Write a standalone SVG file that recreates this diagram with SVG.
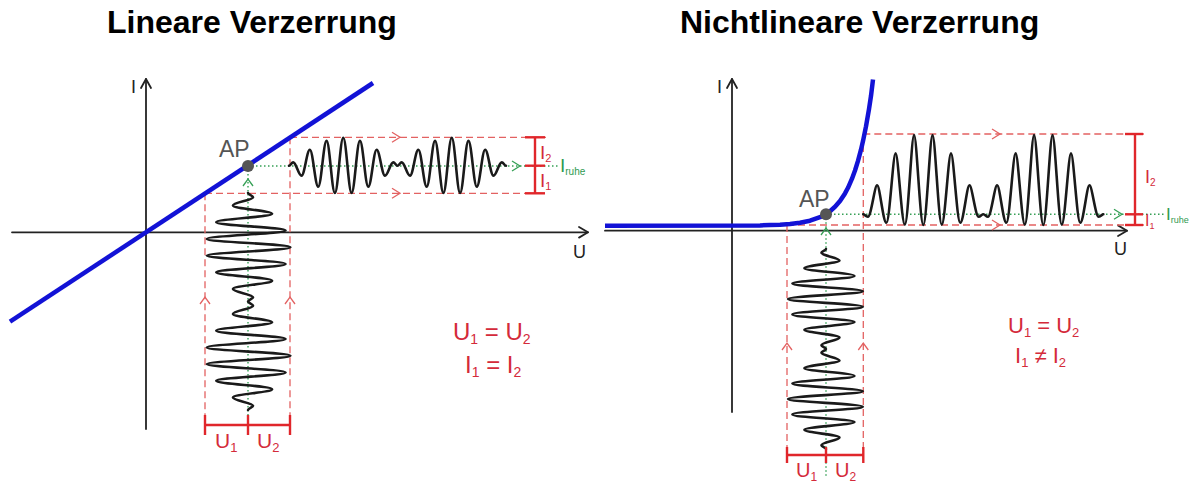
<svg xmlns="http://www.w3.org/2000/svg" xmlns:xlink="http://www.w3.org/1999/xlink" width="1200" height="492" viewBox="0 0 1200 492">
<style>
.axis{stroke:#222;stroke-width:1.8;fill:none;stroke-linecap:round;stroke-linejoin:round}
.curve{stroke:#1212d6;stroke-width:4.5;fill:none;stroke-linejoin:round}
.dash{stroke:#e36262;stroke-width:1.3;stroke-dasharray:7 4;fill:none}
.chr{stroke:#e36262;stroke-width:1.3;fill:none}
.dot{stroke:#36a056;stroke-width:1.4;stroke-dasharray:1.5 2.5;fill:none}
.chg{stroke:#36a056;stroke-width:1.3;fill:none}
.brk{stroke:#e0262b;stroke-width:2.4;fill:none}
.wave{stroke:#1a1a1a;stroke-width:2.6;fill:none;stroke-linejoin:round;stroke-linecap:round}
.apdot{fill:#555}
text{font-family:"Liberation Sans",Arial,Helvetica,sans-serif}
.title{font-weight:bold;font-size:32px;fill:#000}
.lbl{font-size:18px;fill:#222}
.ap{font-size:23px;fill:#555}
.red{fill:#d42a3a}
.green{fill:#2f9a50}
</style>
<defs>
<path id="wave" class="wave" vector-effect="non-scaling-stroke" d="M0,0 C1.82,0 3.18,-12.05 5,-12.05 C8.63,-12.05 11.37,35.46 15,35.46 S21.37,-56.81 25,-56.81 S31.37,74.85 35,74.85 S41.37,-88.55 45,-88.55 S51.37,97.09 55,97.09 S61.37,-100 65,-100 S71.37,97.09 75,97.09 S81.37,-88.55 85,-88.55 S91.37,74.85 95,74.85 S101.37,-56.81 105,-56.81 S111.37,35.46 115,35.46 S121.37,-12.05 125,-12.05 C126.82,-12.05 128.18,0 130,0 C131.82,0 133.18,-12.05 135,-12.05 C138.63,-12.05 141.37,35.46 145,35.46 S151.37,-56.81 155,-56.81 S161.37,74.85 165,74.85 S171.37,-88.55 175,-88.55 S181.37,97.09 185,97.09 S191.37,-100 195,-100 S201.37,97.09 205,97.09 S211.37,-88.55 215,-88.55 S221.37,74.85 225,74.85 S231.37,-56.81 235,-56.81 S241.37,35.46 245,35.46 S251.37,-12.05 255,-12.05 C256.82,-12.05 258.18,0 260,0"/>
</defs>
<rect width="1200" height="492" fill="#fff"/>

<!-- LEFT PANEL -->
<g id="left-title"><text class="title" x="107" y="33">Lineare Verzerrung</text></g>
<g id="left-axes">
<line class="axis" x1="146" y1="429" x2="146" y2="79"/>
<polyline class="axis" points="141,88 146,79 151,88"/>
<line class="axis" x1="12" y1="232.3" x2="588" y2="232.3"/>
<polyline class="axis" points="579,227 588,232.3 579,237.6"/>
<text class="lbl" x="131" y="93">I</text>
<text class="lbl" x="573" y="258" font-size="19">U</text>
</g>
<g id="left-guides">
<line class="dash" x1="290" y1="137.3" x2="546" y2="137.3"/>
<line class="dash" x1="205" y1="193.3" x2="546" y2="193.3"/>
<line class="dash" x1="205" y1="193.3" x2="205" y2="433"/>
<line class="dash" x1="290" y1="137.3" x2="290" y2="433"/>
<polyline class="chr" points="392,132.3 400,137.3 392,142.3"/>
<polyline class="chr" points="392,188.3 400,193.3 392,198.3"/>
<polyline class="chr" points="200,304 205,297 210,304"/>
<polyline class="chr" points="285,304 290,297 295,304"/>
<line class="dot" x1="248" y1="166" x2="558" y2="166"/>
<line class="dot" x1="248" y1="166" x2="248" y2="433"/>
<polyline class="chg" points="512,161 520,166 512,171"/>
<polyline class="chg" points="243,186 248,179 253,186"/>
</g>
<g id="left-characteristic"><line class="curve" x1="10" y1="321.7" x2="373" y2="83"/></g>
<g id="left-signals">
<use xlink:href="#wave" href="#wave" transform="matrix(0.83462 0 0 0.28 289 165.7)"/>
<use xlink:href="#wave" href="#wave" transform="matrix(0 0.83462 -0.425 0 248 193)"/>
</g>
<g id="left-ap">
<circle class="apdot" cx="248" cy="166" r="6"/>
<text class="ap" x="219" y="157">AP</text>
</g>
<g id="left-brackets">
<line class="brk" x1="535" y1="137.3" x2="535" y2="193.3"/>
<line class="brk" x1="525" y1="137.3" x2="545" y2="137.3"/>
<line class="brk" x1="525" y1="165.7" x2="545" y2="165.7"/>
<line class="brk" x1="525" y1="193.3" x2="545" y2="193.3"/>
<line class="brk" x1="205" y1="425" x2="290" y2="425"/>
<line class="brk" x1="205" y1="415" x2="205" y2="435"/>
<line class="brk" x1="248" y1="415" x2="248" y2="435"/>
<line class="brk" x1="290" y1="415" x2="290" y2="435"/>
<text class="red" x="540" y="159" font-size="19">I<tspan font-size="11" dy="3">2</tspan></text>
<text class="red" x="540" y="187" font-size="19">I<tspan font-size="11" dy="3">1</tspan></text>
<text class="green" x="560" y="172" font-size="19">I<tspan font-size="10" dy="3">ruhe</tspan></text>
<text class="red" x="215" y="448" font-size="21">U<tspan font-size="13" dy="4">1</tspan></text>
<text class="red" x="257" y="448" font-size="21">U<tspan font-size="13" dy="4">2</tspan></text>
</g>
<g id="left-equations">
<text class="red" x="453" y="340" font-size="24">U<tspan font-size="14" dy="4">1</tspan><tspan dy="-4"> = U</tspan><tspan font-size="14" dy="4">2</tspan></text>
<text class="red" x="465" y="373" font-size="24">I<tspan font-size="14" dy="4">1</tspan><tspan dy="-4"> = I</tspan><tspan font-size="14" dy="4">2</tspan></text>
</g>

<!-- RIGHT PANEL -->
<g id="right-title"><text class="title" x="680" y="33">Nichtlineare Verzerrung</text></g>
<g id="right-axes">
<line class="axis" x1="732" y1="412" x2="732" y2="79"/>
<polyline class="axis" points="727,88 732,79 737,88"/>
<line class="axis" x1="605" y1="230.7" x2="1127" y2="230.7"/>
<polyline class="axis" points="1118,225.4 1127,230.7 1118,236"/>
<text class="lbl" x="717" y="93">I</text>
<text class="lbl" x="1114" y="255" font-size="19">U</text>
</g>
<g id="right-guides">
<line class="dash" x1="863.3" y1="134" x2="1144" y2="134"/>
<line class="dash" x1="787" y1="225" x2="1144" y2="225"/>
<line class="dash" x1="787" y1="225" x2="787" y2="463"/>
<line class="dash" x1="863.3" y1="134" x2="863.3" y2="463"/>
<polyline class="chr" points="992,129 1000,134 992,139"/>
<polyline class="chr" points="992,220 1000,225 992,230"/>
<polyline class="chr" points="782,350 787,343 792,350"/>
<polyline class="chr" points="858.3,350 863.3,343 868.3,350"/>
<line class="dot" x1="826" y1="214.3" x2="1164" y2="214.3"/>
<line class="dot" x1="826" y1="214.3" x2="826" y2="476"/>
<polyline class="chg" points="1114,209.3 1122,214.3 1114,219.3"/>
<polyline class="chg" points="821,235 826,228 831,235"/>
</g>
<g id="right-characteristic">
<polyline class="curve" points="605,225.7 760,225.4 770,225.1 780,224.7 790,224.0 800,222.8 810,220.7 820,217.2 826,214.0 830,211.2 835,206.8 840,201.0 845,193.4 848,187.8 852,178.7 855,170.5 858,160.9 861,149.7 863,141.1 866,126.4 869,109.1 871,95.9 873,79.5"/>
</g>
<g id="right-signals">
<use xlink:href="#wave" href="#wave" transform="matrix(0 0.7692 0.38 0 826 249)"/>
<path class="wave" vector-effect="non-scaling-stroke" transform="translate(863.3 0) scale(0.92308 1)" d="M0,214.3 C1.5,214.3 2.5,216.8 5,216.8 C8.5,216.8 12.2,185.3 15,185.3 C17.8,185.3 21.5,222.8 25,222.8 C28.5,222.8 32.2,153.3 35,153.3 C37.8,153.3 41.5,224.6 45,224.6 C48.5,224.6 52.2,135 55,135 C57.8,135 61.5,225 65,225 C68.5,225 72.2,135 75,135 C77.8,135 81.5,224.6 85,224.6 C88.5,224.6 92.2,153.3 95,153.3 C97.8,153.3 101.5,222.8 105,222.8 C108.5,222.8 112.2,185.3 115,185.3 C117.8,185.3 121.5,216.8 125,216.8 C127,216.8 128,214.3 130,214.3 C132,214.3 133,216.8 135,216.8 C138.5,216.8 142.2,185.3 145,185.3 C147.8,185.3 151.5,222.8 155,222.8 C158.5,222.8 162.2,153.3 165,153.3 C167.8,153.3 171.5,224.6 175,224.6 C178.5,224.6 182.2,135 185,135 C187.8,135 191.5,225 195,225 C198.5,225 202.2,135 205,135 C207.8,135 211.5,224.6 215,224.6 C218.5,224.6 222.2,153.3 225,153.3 C227.8,153.3 231.5,222.8 235,222.8 C238.5,222.8 242.2,185.3 245,185.3 C247.8,185.3 251.5,216.8 255,216.8 C257.5,216.8 258.5,214.3 260,214.3"/>
</g>
<g id="right-ap">
<circle class="apdot" cx="826" cy="214.3" r="6"/>
<text class="ap" x="799" y="207" font-size="22">AP</text>
</g>
<g id="right-brackets">
<line class="brk" x1="1135" y1="134" x2="1135" y2="225"/>
<line class="brk" x1="1125" y1="134" x2="1143" y2="134"/>
<line class="brk" x1="1125" y1="214.3" x2="1143" y2="214.3"/>
<line class="brk" x1="1125" y1="225" x2="1143" y2="225"/>
<line class="brk" x1="787" y1="455" x2="863.3" y2="455"/>
<line class="brk" x1="787" y1="447" x2="787" y2="463"/>
<line class="brk" x1="826" y1="447" x2="826" y2="463"/>
<line class="brk" x1="863.3" y1="447" x2="863.3" y2="463"/>
<text class="red" x="1145" y="183" font-size="18">I<tspan font-size="10" dy="3">2</tspan></text>
<text class="red" x="1145" y="226" font-size="16">I<tspan font-size="9" dy="3">1</tspan></text>
<text class="green" x="1166" y="220" font-size="17">I<tspan font-size="9" dy="3">ruhe</tspan></text>
<text class="red" x="796" y="476.7" font-size="20">U<tspan font-size="12" dy="4">1</tspan></text>
<text class="red" x="835" y="476.7" font-size="20">U<tspan font-size="12" dy="4">2</tspan></text>
</g>
<g id="right-equations">
<text class="red" x="1008" y="333" font-size="22">U<tspan font-size="13" dy="4">1</tspan><tspan dy="-4"> = U</tspan><tspan font-size="13" dy="4">2</tspan></text>
<text class="red" x="1015" y="363" font-size="22">I<tspan font-size="13" dy="4">1</tspan><tspan dy="-4"> ≠ I</tspan><tspan font-size="13" dy="4">2</tspan></text>
</g>
</svg>
